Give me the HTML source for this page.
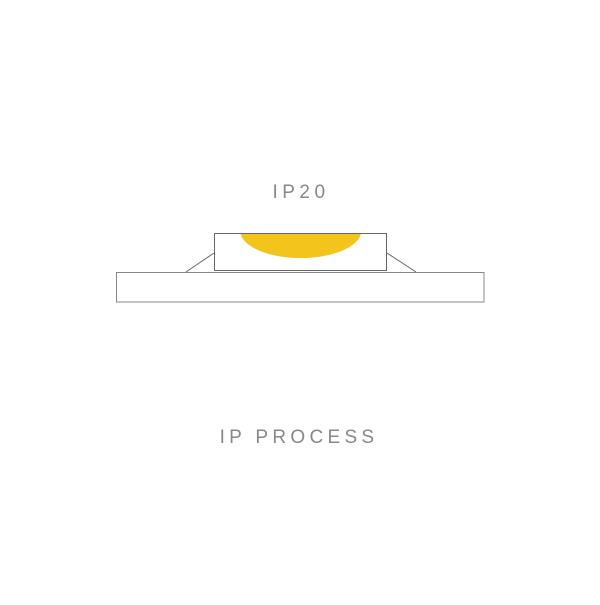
<!DOCTYPE html>
<html><head><style>body{margin:0;background:#fff}</style></head><body>
<svg width="600" height="600" xmlns="http://www.w3.org/2000/svg">
<rect width="600" height="600" fill="#fff"/>
<text x="301" y="198" text-anchor="middle" font-family="Liberation Sans, sans-serif" font-size="19" letter-spacing="4.5" fill="#888">IP20</text>
<path d="M240.5 233.5 L361 233.5 A60.5 27 0 0 1 240.5 233.5 Z" fill="#f2c41c"/>
<rect x="214.5" y="233.5" width="172" height="37" fill="none" stroke="#666" stroke-width="1"/>
<line x1="214" y1="253" x2="186" y2="272" stroke="#666" stroke-width="1"/>
<line x1="387" y1="253" x2="416" y2="272" stroke="#666" stroke-width="1"/>
<rect x="116.5" y="272.5" width="367.5" height="29.5" fill="none" stroke="#888" stroke-width="1"/>
<text x="299" y="443" text-anchor="middle" font-family="Liberation Sans, sans-serif" font-size="19" letter-spacing="4.3" fill="#888">IP PROCESS</text>
</svg>
</body></html>
